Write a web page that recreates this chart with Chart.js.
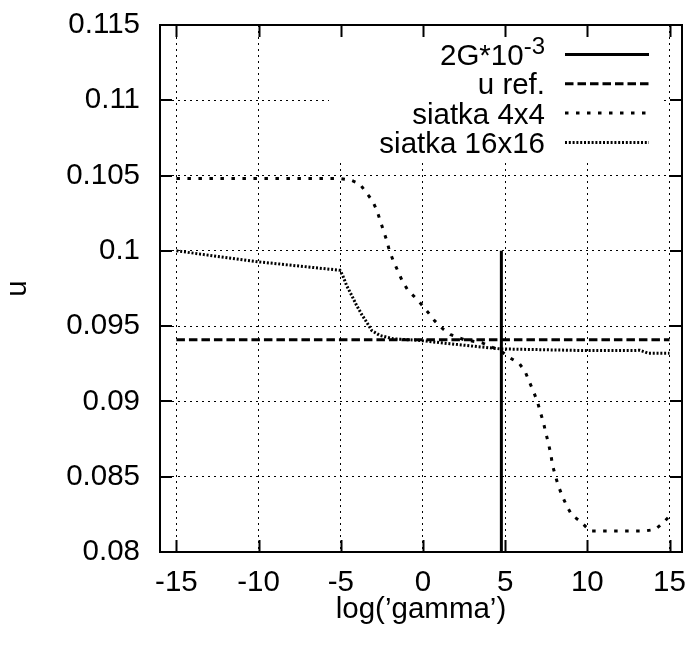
<!DOCTYPE html>
<html>
<head>
<meta charset="utf-8">
<script src="https://cdn.jsdelivr.net/npm/chart.js@4.4.1/dist/chart.umd.min.js"></script>
<style>
  html, body { margin: 0; padding: 0; background: #fff; }
  canvas { display: block; }
</style>
</head>
<body>
<canvas id="c" width="688" height="646"></canvas>
<script>
// Axis ticks
const gammaTicks = [-15, -10, -5, 0, 5, 10, 15];
const uTicks = [0.08, 0.085, 0.09, 0.095, 0.1, 0.105, 0.11, 0.115];

// 2G*10^-3 marker (vertical line)
const gMarkGamma = [4.77, 4.77];
const gMarkU = [0.08, 0.1];

// reference value of u
const refGamma = [-15, 15];
const refU = [0.0941, 0.0941];

// 4x4 mesh
const mesh4Gamma = [-15, -10, -5, -4.4, -3.85, -3.47, -3.06, -2.8, -2.6, -2.4, -2.2, -2.04, -1.8, -1.53, -1.26,
  -0.92, -0.47, -0.1, 0.32, 0.73, 1.2, 1.69, 2.5, 3.58, 4.69, 5.3, 5.85, 6.21, 6.46, 6.72, 6.96, 7.13,
  7.33, 7.47, 7.63, 7.78, 7.87, 8.04, 8.24, 8.48, 8.75, 9.06, 9.56, 10.17, 12, 13.52, 14.13, 14.54, 14.94];
const mesh4U = [0.1048, 0.1048, 0.1048, 0.1047, 0.10445, 0.1039, 0.1033, 0.10267, 0.102, 0.10133, 0.10067, 0.1, 0.09933, 0.09867, 0.098,
  0.09738, 0.0969, 0.09645, 0.0959, 0.09533, 0.09483, 0.09443, 0.0941, 0.0939, 0.09338, 0.09289, 0.09253, 0.092, 0.09133, 0.09067, 0.09, 0.08933,
  0.0886, 0.08793, 0.08723, 0.08649, 0.08583, 0.08511, 0.08438, 0.08371, 0.08305, 0.08245, 0.08205, 0.0814, 0.0814, 0.0814, 0.0815, 0.08187, 0.08231];

// 16x16 mesh
const mesh16Gamma = [-15, -10, -5.05, -4.89, -4.65, -4.34, -4.04, -3.73, -3.43, -3.12, -2.62, -1.81, -0.18, 1.64, 4.69, 9.76, 12.81, 13.2, 13.7, 15];
const mesh16U = [0.1, 0.09927, 0.09871, 0.09838, 0.09771, 0.09705, 0.09638, 0.09578, 0.09527, 0.09471, 0.09438, 0.09416, 0.09405, 0.09383, 0.09349, 0.09338, 0.09338, 0.0934, 0.0932, 0.0932];

// key entries: main text and superscript
const keyText = ['2G*10', 'u ref.', 'siatka 4x4', 'siatka 16x16'];
const keySup = ['-3', '', '', ''];

const FONT = '"Liberation Sans", Arial, Helvetica, sans-serif';
const FS = 29.5;

const pts = (xs, ys) => xs.map((x, i) => ({ x: x, y: ys[i] }));

const line = (label, data, width, dash) => ({
  label: label, data: data, borderColor: '#000', backgroundColor: '#000',
  borderWidth: width, borderDash: dash, pointRadius: 0, fill: false, tension: 0
});

const frameAndKey = {
  id: 'frameAndKey',
  beforeDatasetsDraw(chart) {
    const ctx = chart.ctx;
    const a = chart.chartArea;
    ctx.save();
    // opaque key box
    const bx = a.right - 353, by = a.top + 1, bw = 331, bh = 137;
    ctx.fillStyle = '#fff';
    ctx.fillRect(bx, by, bw, bh);
    const textRight = a.right - 137;
    const s0 = a.right - 117, s1 = a.right - 33;
    chart.data.datasets.forEach((ds, i) => {
      const ly = a.top + 29.5 + i * 29.3;
      // sample line
      ctx.strokeStyle = '#000';
      ctx.lineWidth = ds.borderWidth;
      ctx.setLineDash(ds.borderDash || []);
      ctx.beginPath();
      ctx.moveTo(s0, ly);
      ctx.lineTo(s1, ly);
      ctx.stroke();
      ctx.setLineDash([]);
      // label
      ctx.fillStyle = '#000';
      ctx.textBaseline = 'alphabetic';
      ctx.textAlign = 'right';
      let right = textRight;
      if (keySup[i]) {
        ctx.font = `${Math.round(FS * 0.8)}px ${FONT}`;
        ctx.fillText(keySup[i], right, ly - 1);
        right -= ctx.measureText(keySup[i]).width;
      }
      ctx.font = `${FS}px ${FONT}`;
      ctx.fillText(keyText[i], right, ly + 10.5);
    });
    ctx.restore();
  },
  afterDatasetsDraw(chart) {
    const ctx = chart.ctx;
    const a = chart.chartArea;
    const xs = chart.scales.x, ys = chart.scales.y;
    const tl = 12;
    ctx.save();
    ctx.strokeStyle = '#000';
    ctx.lineWidth = 2;
    ctx.setLineDash([]);
    ctx.beginPath();
    gammaTicks.forEach(v => {
      const px = Math.round(xs.getPixelForValue(v)) + 0.5;
      ctx.moveTo(px, a.bottom); ctx.lineTo(px, a.bottom - tl);
      ctx.moveTo(px, a.top); ctx.lineTo(px, a.top + tl);
    });
    uTicks.forEach(v => {
      const py = Math.round(ys.getPixelForValue(v));
      ctx.moveTo(a.left, py); ctx.lineTo(a.left + tl, py);
      ctx.moveTo(a.right, py); ctx.lineTo(a.right - tl, py);
    });
    ctx.stroke();
    ctx.strokeRect(a.left, a.top, a.right - a.left, a.bottom - a.top);
    ctx.restore();
  }
};

new Chart(document.getElementById('c'), {
  type: 'line',
  data: {
    datasets: [
      line('2G*10^-3', pts(gMarkGamma, gMarkU), 3, []),
      line('u ref.', pts(refGamma, refU), 3, [8.5, 4]),
      line('siatka 4x4', pts(mesh4Gamma, mesh4U), 3, [3.5, 7.5]),
      line('siatka 16x16', pts(mesh16Gamma, mesh16U), 3, [2, 1.8])
    ]
  },
  options: {
    responsive: false,
    animation: false,
    devicePixelRatio: 1,
    layout: { padding: { top: 25, right: 6, left: 0, bottom: 0 } },
    plugins: { legend: { display: false }, tooltip: { enabled: false } },
    scales: {
      x: {
        type: 'linear', min: -16, max: 15.76,
        afterBuildTicks: s => { s.ticks = gammaTicks.map(v => ({ value: v })); },
        afterFit: s => { s.height = 94; s.paddingLeft = 0; s.paddingRight = 0; },
        ticks: { font: { family: FONT, size: FS }, color: '#000', padding: 13, maxRotation: 0, autoSkip: false,
                 callback: v => String(v) },
        grid: { color: '#000', lineWidth: 1, drawTicks: false },
        border: { display: false, dash: [2, 4] },
        title: { display: true, text: 'log(\u2019gamma\u2019)', font: { family: FONT, size: FS }, color: '#000',
                 padding: { top: 0, bottom: 18 } }
      },
      y: {
        type: 'linear', min: 0.08, max: 0.115,
        afterBuildTicks: s => { s.ticks = uTicks.map(v => ({ value: v })); },
        afterFit: s => { s.width = 160; s.paddingTop = 0; s.paddingBottom = 0; },
        ticks: { font: { family: FONT, size: FS }, color: '#000', padding: 20, autoSkip: false,
                 callback: v => String(+v.toFixed(3)) },
        grid: { color: '#000', lineWidth: 1, drawTicks: false },
        border: { display: false, dash: [2, 4] },
        title: { display: true, text: 'u', font: { family: FONT, size: FS }, color: '#000',
                 padding: { top: 0, bottom: 0 } }
      }
    }
  },
  plugins: [frameAndKey]
});
</script>
</body>
</html>
